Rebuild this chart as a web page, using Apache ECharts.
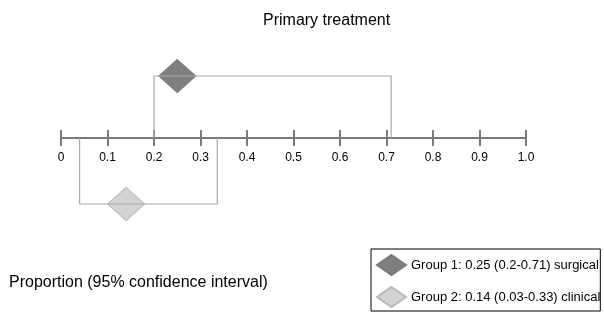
<!DOCTYPE html>
<html>
<head>
<meta charset="utf-8">
<script src="https://cdn.jsdelivr.net/npm/echarts@6/dist/echarts.min.js"></script>
<style>
  html, body { margin: 0; padding: 0; background: #fff; }
  #chart { width: 604px; height: 312px; }
</style>
</head>
<body>
<div id="chart"></div>
<script>
// tick labels of the proportion axis
var tickLabels = ['0', '0.1', '0.2', '0.3', '0.4', '0.5', '0.6', '0.7', '0.8', '0.9', '1.0']
// groups: estimate and 95% CI as drawn
var groupNames = [
  'Group 1: 0.25 (0.2-0.71) surgical',
  'Group 2: 0.14 (0.03-0.33) clinical'
]
var estimates = [0.25, 0.14]
var lowerCI = [0.2, 0.04]
var upperCI = [0.71, 0.336]
// row of each group above (+) / below (-) the axis
var rowLevel = [62, -66]

var diamondColors = ['#7f7f7f', '#d3d3d3']
var font = 'Liberation Sans, Arial, Helvetica, sans-serif'

var series = []
// brackets first so diamonds sit on top
groupNames.forEach(function (name, i) {
  series.push({
    type: 'line',
    silent: true,
    symbol: 'none',
    clip: false,
    lineStyle: { color: '#a9a9a9', width: 1.2 },
    data: [[lowerCI[i], 0], [lowerCI[i], rowLevel[i]], [upperCI[i], rowLevel[i]], [upperCI[i], 0]]
  })
})
groupNames.forEach(function (name, i) {
  series.push({
    name: name,
    type: 'scatter',
    symbol: 'diamond',
    symbolSize: [37, 33],
    clip: false,
    itemStyle: {
      color: diamondColors[i],
      borderColor: i === 0 ? '#7a7a7a' : '#b8b8b8',
      borderWidth: 1,
      opacity: 1
    },
    data: [[estimates[i], rowLevel[i]]]
  })
})

var myChart = echarts.init(document.getElementById('chart'))
var option = {
  animation: false,
  title: [
    {
      text: 'Primary treatment',
      left: 263,
      top: 13,
      padding: 0,
      textStyle: { fontSize: 16, fontWeight: 'normal', color: '#000', fontFamily: font }
    },
    {
      text: 'Proportion (95% confidence interval)',
      left: 9,
      top: 275,
      padding: 0,
      textStyle: { fontSize: 16, fontWeight: 'normal', color: '#000', fontFamily: font }
    }
  ],
  legend: {
    data: groupNames,
    orient: 'vertical',
    left: 371,
    top: 249,
    width: 226,
    height: 54,
    padding: [5, 0, 3, 5],
    itemGap: 10,
    itemWidth: 29,
    itemHeight: 20,
    icon: 'diamond',
    borderColor: '#000',
    borderWidth: 1,
    selectedMode: false,
    textStyle: { fontSize: 13, color: '#000', fontFamily: font }
  },
  // grid bottom edge = the proportion axis; group 2 hangs below it (clip off)
  grid: {
    left: 61,
    right: 78,
    top: 38,
    height: 100,
    containLabel: false
  },
  xAxis: [
    {
      type: 'value',
      min: 0,
      max: 1,
      interval: 0.1,
      splitLine: { show: false },
      axisLine: { show: true, onZero: false, lineStyle: { color: '#797979', width: 2 } },
      axisTick: { show: true, length: 8, lineStyle: { color: '#797979', width: 2 } },
      axisLabel: {
        margin: 14,
        fontSize: 12,
        color: '#000',
        fontFamily: font,
        formatter: function (v) { return tickLabels[Math.round(v * 10)] }
      }
    },
    {
      // upper half of the ticks, moved down onto the axis
      type: 'value',
      position: 'top',
      offset: -100,
      min: 0,
      max: 1,
      interval: 0.1,
      splitLine: { show: false },
      axisLine: { show: false, onZero: false },
      axisTick: { show: true, length: 8, lineStyle: { color: '#797979', width: 2 } },
      axisLabel: { show: false }
    }
  ],
  yAxis: {
    type: 'value',
    min: 0,
    max: 100,
    show: false
  },
  series: series
}
myChart.setOption(option)
</script>
</body>
</html>
